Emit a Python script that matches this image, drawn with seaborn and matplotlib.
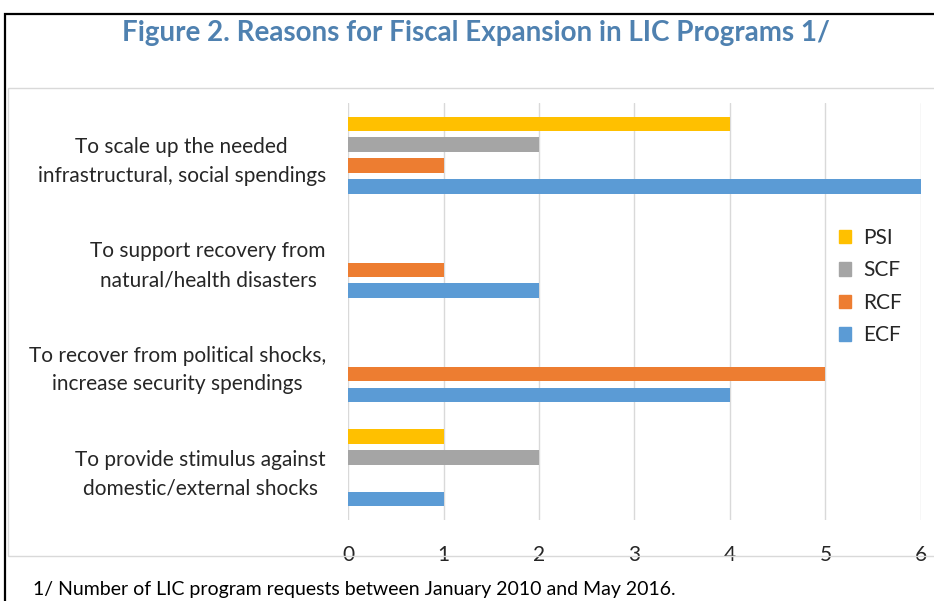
import pandas as pd
import matplotlib.pyplot as plt
import matplotlib.patches as mpatches
import seaborn as sns

reasons = [
    "To scale up the needed\ninfrastructural, social spendings",
    "To support recovery from\nnatural/health disasters",
    "To recover from political shocks,\nincrease security spendings",
    "To provide stimulus against\ndomestic/external shocks",
]
programs = ["PSI", "SCF", "RCF", "ECF"]
psi = [4, 0, 0, 1]
scf = [2, 0, 0, 2]
rcf = [1, 1, 5, 0]
ecf = [6, 2, 4, 1]
x_ticks = [0, 1, 2, 3, 4, 5, 6]
colors = ["#FFC000", "#A5A5A5", "#ED7D31", "#5B9BD5"]

rows = []
for prog, vals in zip(programs, [psi, scf, rcf, ecf]):
    for r, v in zip(reasons, vals):
        rows.append({"Reason": r, "Program": prog, "Count": v})
df = pd.DataFrame(rows)

sns.set_theme(style="white")
plt.rcParams['font.family'] = ['Liberation Sans Narrow', 'Lato', 'DejaVu Sans']

fig = plt.figure(figsize=(9.34, 6.01), dpi=100)
ax = fig.add_axes([348 / 934, 1 - 520 / 601, 573 / 934, 417 / 601])

sns.barplot(data=df, x="Count", y="Reason", hue="Program", hue_order=programs,
            order=reasons, palette=colors, orient="h", width=0.8, gap=0.3,
            saturation=1, linewidth=0, ax=ax, legend=True)

ax.set_xlim(0, 6)
ax.set_xticks(x_ticks)
ax.grid(axis="x", color="#D9D9D9", linewidth=1)
ax.set_axisbelow(True)
for s in ax.spines.values():
    s.set_visible(False)
ax.set_xlabel("")
ax.set_ylabel("")
ax.tick_params(axis="x", length=0, pad=18, labelsize=15)
ax.tick_params(axis="y", length=0, pad=16, labelsize=15)
for lbl in ax.get_yticklabels():
    lbl.set_multialignment("center")
    lbl.set_linespacing(1.55)

handles = [mpatches.Patch(color=c, label=p) for c, p in zip(colors, programs)]
ax.legend(handles=handles, loc="center right", bbox_to_anchor=(1.0, 0.56),
          frameon=False, fontsize=15, handlelength=0.6, handleheight=0.6,
          labelspacing=0.6, handletextpad=0.6)

fig.text(476 / 934, 1 - 33 / 601, "Figure 2. Reasons for Fiscal Expansion in LIC Programs 1/",
         ha="center", va="center", fontsize=20, fontweight="bold", color="#4F81B0")

fig.text(33 / 934, 1 - 589 / 601, "1/ Number of LIC program requests between January 2010 and May 2016.",
         ha="left", va="center", fontsize=14, color="black")

# outer black frame and inner gray chart-area frame
fig.patches.append(mpatches.Rectangle((5 / 934, -0.2), 1.2, 1.2 - 14 / 601,
                                      transform=fig.transFigure, fill=False,
                                      edgecolor="black", linewidth=1.6))
fig.patches.append(mpatches.Rectangle((8 / 934, 1 - 556 / 601), 1.2, (556 - 88) / 601,
                                      transform=fig.transFigure, fill=False,
                                      edgecolor="#D9D9D9", linewidth=1))

fig.savefig("out.png", dpi=100)
